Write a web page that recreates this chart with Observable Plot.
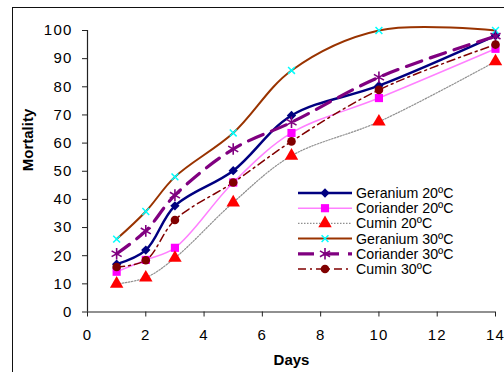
<!DOCTYPE html>
<html><head><meta charset="utf-8">
<script src="https://cdn.jsdelivr.net/npm/d3@7"></script>
<script src="https://cdn.jsdelivr.net/npm/@observablehq/plot@0.6"></script>
<style>
body{margin:0;background:#fff;}
#wrap{position:relative;width:504px;height:372px;overflow:hidden;font-family:Arial,"Liberation Sans",sans-serif;background:#fff;}
#border{position:absolute;left:12px;top:7px;width:600px;height:500px;border-left:1.5px solid #111;border-top:1.5px solid #111;}
#wrap svg{position:absolute;left:0;top:0;}
g[aria-label="y-axis tick label"] text, g[aria-label="x-axis tick label"] text{letter-spacing:1.2px;}
</style></head><body><div id="wrap"><div id="border"></div></div>
<script>
const days = [1, 2, 3, 5, 7, 10, 14];
const geranium20 = [17, 22, 37.7, 50.2, 69.8, 80.4, 98.2];
const coriander20 = [14.3, 18.5, 22.8, 46, 63.6, 76, 93.5];
const cumin20 = [10, 12.2, 19.2, 38.9, 55.5, 67.6, 89];
const geranium30 = [25.9, 35.7, 48, 63.6, 85.8, 100, 100];
const coriander30 = [20.7, 28.8, 41.5, 57.9, 67.4, 83.4, 98];
const cumin30 = [16, 18.4, 32.7, 46, 60.6, 78.9, 95];
const seriesNames = ["Geranium 20ºC", "Coriander 20ºC", "Cumin 20ºC", "Geranium 30ºC", "Coriander 30ºC", "Cumin 30ºC"];
const xTicks = [0, 2, 4, 6, 8, 10, 12, 14];
const yTicks = [0, 10, 20, 30, 40, 50, 60, 70, 80, 90, 100];

const values = [geranium20, coriander20, cumin20, geranium30, coriander30, cumin30];
const styles = [
  {stroke: "#000080", width: 2.5, dash: null, symbol: "diamond2", r: 4.2, fill: "#000080", mstroke: "none", mw: 0},
  {stroke: "#ff80ff", width: 1.5, dash: null, symbol: "square", r: 4.6, fill: "#ff00ff", mstroke: "none", mw: 0},
  {stroke: "#909090", width: 1.2, dash: "1.5,1.5", symbol: "triangle", r: 5, fill: "#ff0000", mstroke: "none", mw: 0},
  {stroke: "#993300", width: 2, dash: null, symbol: "times", r: 3.2, fill: "none", mstroke: "#00ffff", mw: 1.5},
  {stroke: "#800080", width: 3.2, dash: "16,9", symbol: "asterisk", r: 5.5, fill: "none", mstroke: "#800080", mw: 1.6},
  {stroke: "#800000", width: 1.5, dash: "8,4,2,4", symbol: "circle", r: 4.3, fill: "#800000", mstroke: "none", mw: 0}
];
const rows = seriesNames.flatMap((s, i) => days.map((d, j) => ({series: s, day: d, value: values[i][j]})));

const marks = [
  Plot.ruleY([0], {stroke: "#222", strokeWidth: 1.2}),
  Plot.ruleX([0], {stroke: "#222", strokeWidth: 1.2}),
  Plot.axisY({ticks: yTicks, tickSize: 5, tickPadding: 10, label: null, stroke: "#222"}),
  Plot.axisX({ticks: xTicks, tickSize: 5, tickPadding: 12.5, label: null, stroke: "#222"}),
  Plot.text(["Mortality"], {frameAnchor: "left", dx: -59, rotate: -90, fontWeight: "bold", fontSize: 15, lineAnchor: "middle"}),
  Plot.text(["Days"], {frameAnchor: "bottom", dy: 48, fontWeight: "bold", fontSize: 15, lineAnchor: "middle"})
];
seriesNames.forEach((s, i) => {
  const st = styles[i];
  const data = rows.filter(r => r.series === s);
  marks.push(Plot.line(data, {x: "day", y: "value", curve: "catmull-rom", stroke: st.stroke, strokeWidth: st.width, strokeDasharray: st.dash}));
});
seriesNames.forEach((s, i) => {
  const st = styles[i];
  const data = rows.filter(r => r.series === s);
  marks.push(Plot.dot(data, {x: "day", y: "value", symbol: st.symbol, r: st.r, fill: st.fill, stroke: st.mstroke, strokeWidth: st.mw}));
});

const chart = Plot.plot({
  width: 504, height: 372,
  marginLeft: 87, marginRight: 9, marginTop: 30, marginBottom: 60.5,
  style: {fontSize: "15px", fontFamily: "Arial, 'Liberation Sans', sans-serif", background: "transparent", color: "#000"},
  x: {domain: [0, 14]},
  y: {domain: [0, 100]},
  marks
});
document.getElementById("wrap").appendChild(chart);

// legend
const rowY = [193, 208.2, 223.4, 238.6, 253.8, 269];
const lg = d3.select("#wrap").append("svg").attr("width", 504).attr("height", 372).style("pointer-events", "none");
const symMap = {diamond2: d3.symbolDiamond2, square: d3.symbolSquare, triangle: d3.symbolTriangle, times: d3.symbolTimes, asterisk: d3.symbolAsterisk, circle: d3.symbolCircle};
seriesNames.forEach((s, i) => {
  const st = styles[i];
  const y = rowY[i];
  lg.append("line").attr("x1", 298).attr("x2", 352).attr("y1", y).attr("y2", y)
    .attr("stroke", st.stroke).attr("stroke-width", st.width).attr("stroke-dasharray", st.dash);
  lg.append("path").attr("d", d3.symbol(symMap[st.symbol], Math.PI * st.r * st.r)())
    .attr("transform", `translate(325,${y})`).attr("fill", st.fill).attr("stroke", st.mstroke).attr("stroke-width", st.mw);
  lg.append("text").attr("x", 356).attr("y", y).attr("dy", "0.35em")
    .attr("font-size", 14.2).attr("font-family", "Arial, 'Liberation Sans', sans-serif").text(s);
});
</script></body></html>
